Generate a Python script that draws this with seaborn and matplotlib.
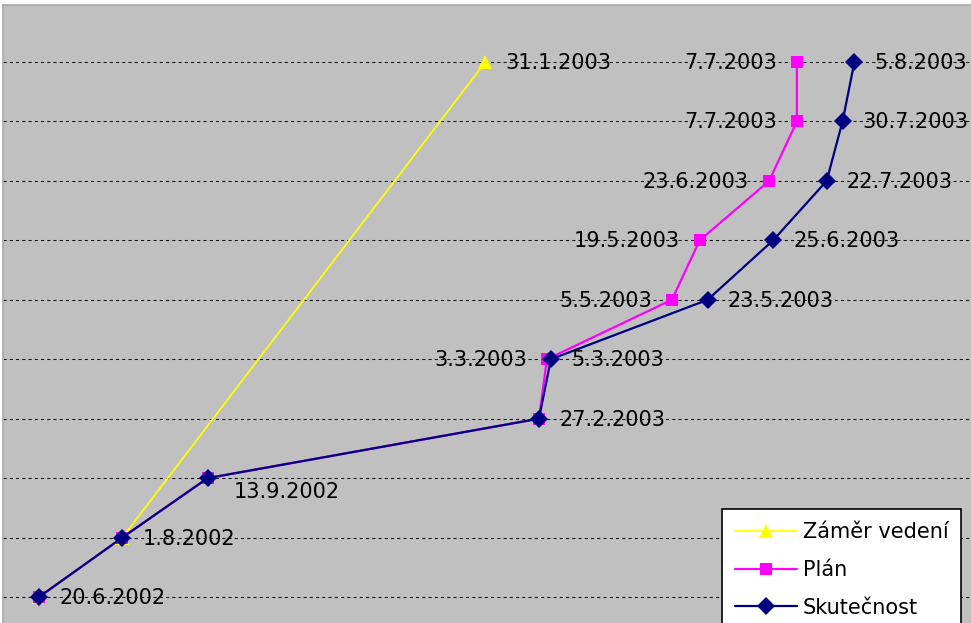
import matplotlib
matplotlib.use("Agg")
import matplotlib.pyplot as plt
import matplotlib.dates as mdates
import pandas as pd
import seaborn as sns

# Milestone dates for each series (milestone index = position in list)
zamer_dates = ["2002-06-20", "2002-08-01", "2003-01-31"]
zamer_levels = [0, 1, 9]

plan_dates = ["2002-06-20", "2002-08-01", "2002-09-13", "2003-02-27", "2003-03-03",
              "2003-05-05", "2003-05-19", "2003-06-23", "2003-07-07", "2003-07-07"]
plan_levels = [0, 1, 2, 3, 4, 5, 6, 7, 8, 9]

skut_dates = ["2002-06-20", "2002-08-01", "2002-09-13", "2003-02-27", "2003-03-05",
              "2003-05-23", "2003-06-25", "2003-07-22", "2003-07-30", "2003-08-05"]
skut_levels = [0, 1, 2, 3, 4, 5, 6, 7, 8, 9]

series_names = ["Záměr vedení", "Plán", "Skutečnost"]
series_colors = ["#FFFF00", "#FF00FF", "#000080"]
series_markers = ["^", "s", "D"]

grid_levels = list(range(10))


def fmt(d):
    return f"{d.day}.{d.month}.{d.year}"


frames = []
for name, dates, lv in zip(series_names,
                           [zamer_dates, plan_dates, skut_dates],
                           [zamer_levels, plan_levels, skut_levels]):
    frames.append(pd.DataFrame({"datum": pd.to_datetime(dates), "milnik": lv, "serie": name}))
df = pd.concat(frames, ignore_index=True)

sns.set_style("white")
plt.rcParams["font.family"] = ["DejaVu Sans"]
plt.rcParams["text.color"] = "black"

W, H = 971, 623
fig = plt.figure(figsize=(W / 100, H / 100), dpi=100, facecolor="white")

# plot area: starts at x=3px, y=5px and runs past the right and bottom edges
ax = fig.add_axes([3 / W, 0, (W - 3) / W, (H - 5) / H])
ax.set_facecolor("#C0C0C0")

sizes = {"Záměr vedení": 9.5, "Plán": 9.2, "Skutečnost": 9.0}
widths = {"Záměr vedení": 1.3, "Plán": 1.6, "Skutečnost": 1.6}
for name, col, mk in zip(series_names, series_colors, series_markers):
    sub = df[df["serie"] == name]
    sns.lineplot(data=sub, x="datum", y="milnik", ax=ax, color=col, marker=mk,
                 markersize=sizes[name], markeredgewidth=0, linewidth=widths[name],
                 estimator=None, sort=False, label=name, zorder=3)

# axis ranges
day0 = pd.Timestamp("2002-06-20")
px0, px_day = 39.0, 1.984
x_left = day0 + pd.Timedelta(days=(3 - px0) / px_day)
x_right = day0 + pd.Timedelta(days=(W - px0) / px_day)
ax.set_xlim(mdates.date2num(x_left), mdates.date2num(x_right))
y_zero, px_level = 597.0, 59.44
ax.set_ylim((y_zero - H) / px_level, (y_zero - 5) / px_level)

ax.set_yticks(grid_levels)
ax.set_xticks([])
ax.yaxis.grid(True, color="#101010", linestyle=(0, (3, 3)), linewidth=0.75)
ax.set_axisbelow(True)
ax.tick_params(left=False, bottom=False, labelleft=False, labelbottom=False)
ax.set_xlabel("")
ax.set_ylabel("")
for side in ["right", "bottom"]:
    ax.spines[side].set_visible(False)
for side in ["left", "top"]:
    ax.spines[side].set_color("#a8a8a8")
    ax.spines[side].set_linestyle((0, (1, 1)))
    ax.spines[side].set_linewidth(1.2)

# data labels
fs = 15
dx = 14.5   # horizontal offset in points
dy = -5.0   # baseline offset in points


def label(date, level, side="right", off=None):
    d = pd.Timestamp(date)
    if off is None:
        off = (dx if side == "right" else -dx, dy)
    ax.annotate(fmt(d), xy=(mdates.date2num(d), level), xytext=off,
                textcoords="offset points", ha="left" if side == "right" else "right",
                va="baseline", fontsize=fs, color="black", zorder=5)


label(zamer_dates[2], zamer_levels[2], "right")
for d, lv in zip(plan_dates[4:], plan_levels[4:]):
    label(d, lv, "left")
for d, lv in zip(skut_dates, skut_levels):
    if lv == 2:
        label(d, lv, "right", off=(18.5, -14.5))
    else:
        label(d, lv, "right")

if ax.get_legend():
    ax.get_legend().remove()
handles, labels = ax.get_legend_handles_labels()
leg = fig.legend(handles, labels, loc="upper left",
                 bbox_to_anchor=(722 / W, 1 - 509 / H), bbox_transform=fig.transFigure,
                 borderaxespad=0, fontsize=fs, frameon=True, fancybox=False,
                 handlelength=3.0, handletextpad=0.25, labelspacing=0.86,
                 borderpad=0.62, labelcolor="black")
leg.get_frame().set_facecolor("white")
leg.get_frame().set_edgecolor("black")
leg.get_frame().set_linewidth(1.2)
leg.get_frame().set_alpha(1)

fig.savefig("out.png", dpi=100, facecolor="white")
